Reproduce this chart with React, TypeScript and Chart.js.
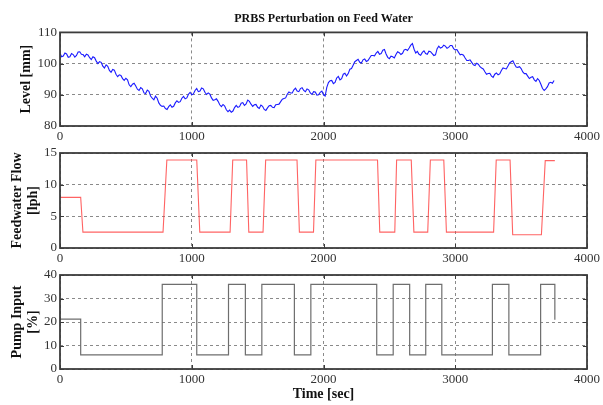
import React, { useEffect, useRef } from "react";
import { Chart, registerables } from "chart.js";

Chart.register(...registerables);

const FONT = "'Liberation Serif', 'Times New Roman', Times, serif";

const chartTitle = "PRBS Perturbation on Feed Water";
const xTitle = "Time [sec]";
const levelTitle = "Level [mm]";
const flowTitle = ["Feedwater Flow", "[lph]"];
const pumpTitle = ["Pump Input", "[%]"];

const levelTimes = [
  0, 25, 50, 75, 100, 125, 150, 175, 200, 225, 250, 275, 300, 325, 350, 375, 400, 425, 450, 475,
  500, 525, 550, 575, 600, 625, 650, 675, 700, 725, 750, 775, 800, 825, 850, 875, 900, 925, 950, 975,
  1000, 1025, 1050, 1075, 1100, 1125, 1150, 1175, 1200, 1225, 1250, 1275, 1300, 1325, 1350, 1375, 1400, 1425, 1450, 1475,
  1500, 1525, 1550, 1575, 1600, 1625, 1650, 1675, 1700, 1725, 1750, 1775, 1800, 1825, 1850, 1875, 1900, 1925, 1950, 1975,
  2000, 2025, 2050, 2075, 2100, 2125, 2150, 2175, 2200, 2225, 2250, 2275, 2300, 2325, 2350, 2375, 2400, 2425, 2450, 2475,
  2500, 2525, 2550, 2575, 2600, 2625, 2650, 2675, 2700, 2725, 2750, 2775, 2800, 2825, 2850, 2875, 2900, 2925, 2950, 2975,
  3000, 3025, 3050, 3075, 3100, 3125, 3150, 3175, 3200, 3225, 3250, 3275, 3300, 3325, 3350, 3375, 3400, 3425, 3450, 3475,
  3500, 3525, 3550, 3575, 3600, 3625, 3650, 3675, 3700, 3725, 3750,
];

const levelValues = [
  103.3, 102.4, 103.1, 102.2, 102.9, 102.6, 103.8, 102.9, 103.0, 101.9, 102.2, 100.8, 100.6, 99.2, 99.6, 97.8, 98.1, 96.6, 96.4, 95.2,
  95.3, 93.2, 93.4, 92.8, 91.4, 91.9, 90.4, 91.1, 88.9, 89.6, 87.4, 86.3, 85.6, 86.2, 86.0, 87.4, 87.6, 88.9, 88.7, 90.2,
  90.0, 91.4, 91.0, 92.2, 90.8, 90.6, 89.0, 88.4, 87.9, 86.2, 86.4, 84.6, 84.4, 85.9, 86.0, 87.3, 86.6, 88.3, 87.0, 86.8,
  86.0, 86.7, 85.3, 85.8, 86.6, 85.9, 86.9, 87.8, 88.8, 90.2, 90.6, 91.6, 91.2, 92.0, 91.4, 91.9, 90.6, 91.0, 89.9, 90.8,
  90.0, 92.4, 94.5, 93.6, 95.4, 94.8, 96.6, 96.0, 98.2, 99.5, 101.0, 100.4, 101.2, 100.7, 101.8, 102.6, 103.4, 103.0, 104.3, 103.1,
  101.6, 102.2, 102.9, 103.5, 103.3, 104.6, 105.0, 106.4, 103.4, 103.0, 103.6, 103.2, 104.0, 103.2, 102.8, 105.6, 105.2, 105.6, 105.2, 105.8,
  104.4, 103.6, 103.0, 101.8, 101.0, 100.4, 99.4, 99.8, 98.6, 97.4, 96.8, 96.0, 96.6, 96.4, 97.8, 98.4, 99.2, 100.6, 99.8, 98.8,
  98.4, 96.8, 96.0, 95.6, 94.8, 95.2, 93.4, 91.4, 92.6, 94.0, 94.6,
];

// readings halfway between consecutive levelTimes samples
const levelMidValues = [
  102.2, 103.4, 102.0, 103.2, 102.1, 103.7, 103.0, 102.2, 102.8, 101.3, 101.9, 100.0, 100.4, 98.6, 99.1, 97.2, 97.9, 95.8, 96.2, 94.6,
  94.8, 92.6, 93.7, 91.8, 92.3, 90.6, 91.5, 89.6, 88.4, 88.9, 86.6, 86.4, 85.3, 86.8, 86.3, 88.1, 87.8, 89.5, 89.0, 90.8,
  90.3, 92.0, 91.2, 91.9, 90.1, 90.2, 88.2, 88.7, 86.8, 86.9, 85.2, 85.1, 84.8, 86.6, 86.2, 87.5, 87.1, 87.9, 86.3, 86.9,
  85.6, 86.3, 85.0, 86.5, 86.0, 86.8, 87.0, 88.6, 89.0, 90.9, 90.6, 92.1, 91.0, 92.3, 91.0, 91.6, 90.1, 90.9, 90.0, 91.2,
  89.6, 93.9, 94.6, 94.0, 95.9, 95.2, 96.9, 96.8, 98.4, 100.6, 101.4, 100.2, 101.5, 101.0, 102.6, 102.5, 103.9, 103.2, 104.5, 102.0,
  102.4, 101.8, 103.8, 102.9, 104.4, 104.2, 105.9, 104.6, 103.9, 102.7, 104.1, 103.0, 103.8, 102.6, 104.8, 105.0, 105.9, 104.9, 105.8, 104.8,
  104.5, 102.8, 102.7, 101.0, 101.2, 99.6, 100.1, 99.0, 98.3, 96.6, 96.9, 95.6, 97.0, 96.7, 98.6, 98.3, 100.2, 100.9, 98.9, 99.0,
  97.3, 96.8, 95.2, 95.8, 94.3, 94.6, 92.0, 91.9, 93.8, 93.7,
];

const flowTimes = [
  0, 157, 174, 782, 811, 1038, 1061, 1291, 1311, 1416, 1433, 1541, 1561, 1799, 1817, 1924, 1942,
  2410, 2427, 2541, 2555, 2666, 2686, 2791, 2811, 2913, 2933, 3291, 3311, 3416, 3436, 3654, 3683, 3756,
];
const flowValues = [
  8, 8, 2.5, 2.5, 13.9, 13.9, 2.5, 2.5, 13.9, 13.9, 2.5, 2.5, 13.9, 13.9, 2.5, 2.5, 13.9,
  13.9, 2.5, 2.5, 13.9, 13.9, 2.5, 2.5, 13.9, 13.9, 2.5, 2.5, 13.9, 13.9, 2.1, 2.1, 13.8, 13.8,
];

const pumpTimes = [0, 157, 776, 1038, 1279, 1407, 1532, 1779, 1904, 2404, 2529, 2654, 2776, 2898, 3282, 3407, 3648, 3756];
const pumpLevels = [21.2, 6, 36, 6, 36, 6, 36, 6, 36, 6, 36, 6, 36, 6, 36, 6, 36, 21];

const xTicks = [0, 1000, 2000, 3000, 4000];

const framePlugin = {
  id: "frame",
  afterDraw(chart: any) {
    const { ctx, chartArea } = chart;
    const { left, top, right, bottom } = chartArea;
    ctx.save();
    ctx.strokeStyle = "#3a3a3a";
    ctx.lineWidth = 1;
    const xs = chart.scales.x;
    const ys = chart.scales.y;
    ctx.beginPath();
    xs.ticks.forEach((t: any) => {
      const px = Math.round(xs.getPixelForValue(t.value)) + 0.5;
      ctx.moveTo(px, bottom);
      ctx.lineTo(px, bottom - 4);
      ctx.moveTo(px, top);
      ctx.lineTo(px, top + 4);
    });
    ys.ticks.forEach((t: any) => {
      const py = Math.round(ys.getPixelForValue(t.value)) + 0.5;
      ctx.moveTo(left, py);
      ctx.lineTo(left + 4, py);
      ctx.moveTo(right, py);
      ctx.lineTo(right - 4, py);
    });
    ctx.stroke();
    ctx.lineWidth = 1.8;
    ctx.strokeStyle = "#3c3c3c";
    ctx.strokeRect(left, top, right - left, bottom - top);
    ctx.restore();
  },
};

function makeOptions(opts: {
  yMin: number;
  yMax: number;
  yStep: number;
  yTitle: string | string[];
  yTitlePad: number;
  topPad: number;
  showTitle: boolean;
  showXTitle: boolean;
  xHeight: number;
}) {
  return {
    responsive: false,
    animation: false as const,
    devicePixelRatio: 1,
    layout: { padding: { top: opts.topPad, right: 15, left: 0, bottom: 0 } },
    plugins: {
      legend: { display: false },
      tooltip: { enabled: false },
      title: {
        display: opts.showTitle,
        text: chartTitle,
        fullSize: false,
        color: "#111",
        font: { family: FONT, size: 12, weight: "bold" as const, lineHeight: 1.2 },
        padding: { top: 12, bottom: 6 },
      },
    },
    elements: { point: { radius: 0 } },
    scales: {
      x: {
        type: "linear" as const,
        min: 0,
        max: 4000,
        afterBuildTicks: (axis: any) => {
          axis.ticks = xTicks.map((v) => ({ value: v }));
        },
        afterFit: (axis: any) => {
          axis.height = opts.xHeight;
        },
        ticks: {
          color: "#333",
          font: { family: FONT, size: 13 },
          padding: 3,
          maxRotation: 0,
          autoSkip: false,
          callback: (v: any) => String(v),
        },
        grid: { color: "#8a8a8a", lineWidth: 1, drawTicks: false },
        border: { display: false, dash: [3, 3] },
        title: {
          display: opts.showXTitle,
          text: xTitle,
          color: "#111",
          font: { family: FONT, size: 14, weight: "bold" as const, lineHeight: 1.2 },
          padding: { top: 0, bottom: 2 },
        },
      },
      y: {
        type: "linear" as const,
        min: opts.yMin,
        max: opts.yMax,
        afterFit: (axis: any) => {
          axis.width = 60;
        },
        ticks: {
          stepSize: opts.yStep,
          color: "#333",
          font: { family: FONT, size: 13 },
          padding: 3,
          callback: (v: any) => String(v),
        },
        grid: { color: "#8a8a8a", lineWidth: 1, drawTicks: false },
        border: { display: false, dash: [3, 3] },
        title: {
          display: true,
          text: opts.yTitle,
          color: "#111",
          font: { family: FONT, size: 14, weight: "bold" as const, lineHeight: 1.15 },
          padding: { top: opts.yTitlePad, bottom: 0 },
        },
      },
    },
  };
}

function PlotCanvas(props: { top: number; height: number; build: (c: HTMLCanvasElement) => Chart }) {
  const ref = useRef<HTMLCanvasElement | null>(null);
  useEffect(() => {
    if (!ref.current) return;
    const chart = props.build(ref.current);
    return () => chart.destroy();
  }, []);
  return (
    <canvas
      ref={ref}
      width={603}
      height={props.height}
      style={{ position: "absolute", left: 0, top: props.top, width: 603, height: props.height }}
    />
  );
}

export default function App() {
  const levelData: { x: number; y: number }[] = [];
  levelTimes.forEach((t, i) => {
    levelData.push({ x: t, y: levelValues[i] });
    if (i < levelMidValues.length) {
      levelData.push({ x: (t + levelTimes[i + 1]) / 2, y: levelMidValues[i] });
    }
  });
  const flowData = flowTimes.map((t, i) => ({ x: t, y: flowValues[i] }));
  const pumpData = pumpTimes.map((t, i) => ({ x: t, y: pumpLevels[i] }));

  const buildLevel = (c: HTMLCanvasElement) =>
    new Chart(c, {
      type: "line",
      data: {
        datasets: [
          { data: levelData, borderColor: "#1a1aff", borderWidth: 1.1, tension: 0, fill: false },
        ],
      },
      options: makeOptions({
        yMin: 80, yMax: 110, yStep: 10, yTitle: levelTitle, yTitlePad: 18,
        topPad: 0, showTitle: true, showXTitle: false, xHeight: 19,
      }) as any,
      plugins: [framePlugin],
    });

  const buildFlow = (c: HTMLCanvasElement) =>
    new Chart(c, {
      type: "line",
      data: {
        datasets: [
          { data: flowData, borderColor: "rgba(255,60,60,0.8)", borderWidth: 1.1, tension: 0, fill: false },
        ],
      },
      options: makeOptions({
        yMin: 0, yMax: 15, yStep: 5, yTitle: flowTitle, yTitlePad: 9,
        topPad: 13, showTitle: false, showXTitle: false, xHeight: 19,
      }) as any,
      plugins: [framePlugin],
    });

  const buildPump = (c: HTMLCanvasElement) =>
    new Chart(c, {
      type: "line",
      data: {
        datasets: [
          { data: pumpData, borderColor: "#6e6e6e", borderWidth: 1.2, stepped: "before", fill: false },
        ],
      },
      options: makeOptions({
        yMin: 0, yMax: 40, yStep: 10, yTitle: pumpTitle, yTitlePad: 9,
        topPad: 13, showTitle: false, showXTitle: true, xHeight: 36,
      }) as any,
      plugins: [framePlugin],
    });

  return (
    <div style={{ position: "absolute", left: 0, top: 0, width: 603, height: 405, background: "#fff" }}>
      <PlotCanvas top={0} height={145} build={buildLevel} />
      <PlotCanvas top={140} height={127} build={buildFlow} />
      <PlotCanvas top={262} height={143} build={buildPump} />
    </div>
  );
}
